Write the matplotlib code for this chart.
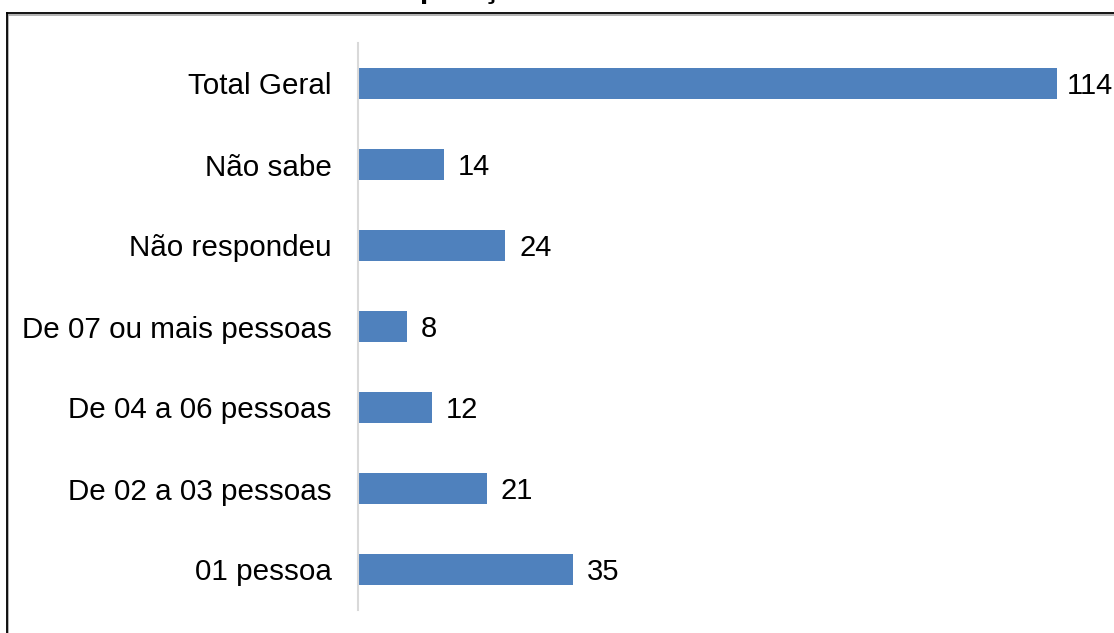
import matplotlib.pyplot as plt
from matplotlib.lines import Line2D

plt.rcParams['font.family'] = ['Liberation Sans', 'DejaVu Sans']

categorias = ['01 pessoa', 'De 02 a 03 pessoas', 'De 04 a 06 pessoas',
              'De 07 ou mais pessoas', 'Não respondeu', 'Não sabe', 'Total Geral']
valores = [35, 21, 12, 8, 24, 14, 114]

W, H = 1114, 633
fig = plt.figure(figsize=(W / 100, H / 100), dpi=100)

# axes placed in pixel units
left, right, top, bottom = 358, 1057, 43, 610
ax = fig.add_axes([left / W, 1 - bottom / H, (right - left) / W, (bottom - top) / H])

y = range(len(categorias))
bars = ax.barh(y, valores, height=0.39, color='#4F81BD')
vmax = max(valores)
for b, v in zip(bars, valores):
    # the longest bar's label gets pulled in so it stays inside the frame
    dx = 7 if v == vmax else 10
    ax.annotate(str(v), (b.get_width(), b.get_y() + b.get_height() / 2),
                xytext=(dx, -1.5), textcoords='offset points', va='center',
                ha='left', fontsize=21, annotation_clip=False)

ax.set_xlim(0, 114)
ax.set_ylim(-0.5, len(categorias) - 0.5)
ax.set_yticks(list(y))
ax.set_yticklabels(categorias, fontsize=21.3)
ax.tick_params(axis='y', length=0, pad=19)
ax.set_xticks([])
for s in ['top', 'right', 'bottom']:
    ax.spines[s].set_visible(False)
ax.spines['left'].set_color('#D9D9D9')
ax.spines['left'].set_linewidth(1.5)

# chart frame (extends past the bottom and right edges)
fx = lambda px: px / W
fy = lambda py: 1 - py / H
fig.add_artist(Line2D([fx(8), fx(8)], [fy(14), fy(H + 5)], color='#A6A6A6', lw=1.2))
fig.add_artist(Line2D([fx(8), fx(W + 5)], [fy(14.5), fy(14.5)], color='#A6A6A6', lw=1.2))
fig.add_artist(Line2D([fx(7), fx(7)], [fy(13), fy(H + 5)], color='black', lw=1.3))
fig.add_artist(Line2D([fx(7), fx(W + 5)], [fy(13.3), fy(13.3)], color='black', lw=1.3))

# title sits above the visible area
fig.text(fx(352), fy(-3.5), 'Composição familiar', fontsize=22, fontweight='bold',
         ha='left', va='baseline')

fig.savefig('out.png', dpi=100)
